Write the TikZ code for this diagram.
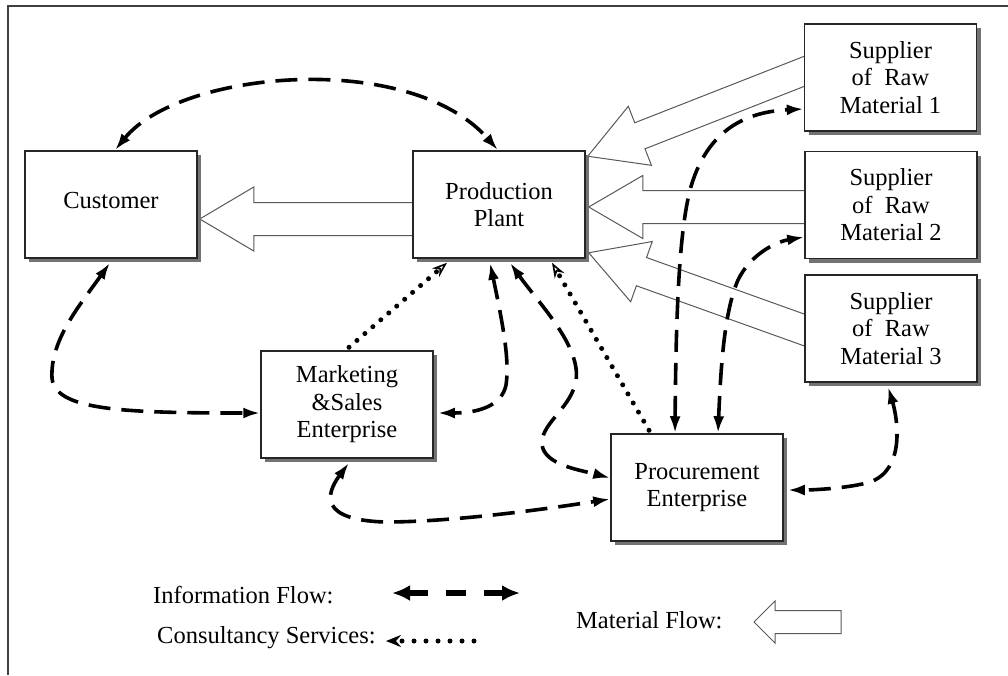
\documentclass[tikz,border=0pt]{standalone}
\usepackage{fontspec}
\setmainfont{Liberation Serif}
\usetikzlibrary{arrows.meta,calc,shadows}
\pgfdeclarelayer{bg}
\pgfsetlayers{bg,main}
% hollow material-flow arrow: #1 start, #2 tip, #3 shaft half width, #4 head half width, #5 head length
\newcommand\matarrow[5]{%
  \coordinate (mH) at ($(#2)!#5!(#1)$);
  \draw[mat] ($(#1)!#3!90:(#2)$) -- ($(mH)!#3!-90:(#1)$) -- ($(mH)!#4!-90:(#1)$) -- (#2)
    -- ($(mH)!#4!90:(#1)$) -- ($(mH)!#3!90:(#1)$) -- ($(#1)!#3!-90:(#2)$) -- cycle;}
\begin{document}
\begin{tikzpicture}[x=1pt,y=-1pt,
  txt/.style={font=\fontsize{24.5}{27.5}\selectfont, inner sep=0pt},
  box/.style={draw=black!85, line width=1.5pt, fill=white, minimum width=172pt,
    minimum height=107pt, align=center, inner sep=0pt,
    font=\fontsize{24.5}{27.5}\selectfont,
    drop shadow={shadow xshift=4pt, shadow yshift=-4pt, fill=black!55, opacity=1}},
  info/.style={line width=3.6pt, dash pattern=on 22pt off 11pt,
    {Latex[length=17pt,width=11pt]}-{Latex[length=17pt,width=11pt]}},
  consult/.style={line width=5pt, line cap=round, dash pattern=on 0pt off 10.5pt,
    -{Stealth[open,length=15pt,width=11pt,line width=1.6pt]}},
  mat/.style={draw=black!65, line width=1pt, fill=white, line join=miter}]
\useasboundingbox (0,0) rectangle (1008,675);
% frame
\draw[line width=1.3pt, black!75] (1008,6) -- (8,6) -- (8,675);

% boxes
\node[box] (cust) at (111,204.5) {\raisebox{8.5pt}{Customer}};
\node[box] (prod) at (499,204.5) {Production\\Plant};
\node[box] (s1) at (890.5,77.5) {Supplier\\of~ Raw\\Material 1};
\node[box] (s2) at (891,205) {Supplier\\of~ Raw\\Material 2};
\node[box] (s3) at (891,328.5) {Supplier\\of~ Raw\\Material 3};
\node[box] (mkt) at (347,404.5) {Marketing\\\&Sales\\Enterprise};
\node[box] (proc) at (697,487.5) {Procurement\\Enterprise};

% material flow arrows
\begin{pgfonlayer}{bg}
  \coordinate (pc) at ($(prod.west)+(20,14.5)$);
  \coordinate (ct) at ($(cust.east)+(2,14.5)$);
  \matarrow{pc}{ct}{16.5pt}{32pt}{54pt}
  \coordinate (s2s) at ($(s2.west)+(20,2)$);
  \coordinate (s2t) at ($(prod.east)+(3,2.5)$);
  \matarrow{s2s}{s2t}{16.5pt}{31.5pt}{54pt}
  \coordinate (s1e) at ($(s1.west)+(0,-6)$);
  \coordinate (s1t) at ($(prod.north east)+(2,6)$);
  \coordinate (s1s) at ($(s1t)!1.09!(s1e)$);
  \matarrow{s1s}{s1t}{14pt}{31.7pt}{56pt}
  \coordinate (s3e) at ($(s3.west)+(0,1.5)$);
  \coordinate (s3t) at ($(prod.south east)+(3,-6)$);
  \coordinate (s3s) at ($(s3t)!1.09!(s3e)$);
  \matarrow{s3s}{s3t}{15pt}{32pt}{56pt}
\end{pgfonlayer}

% information flows
\draw[info] ($(cust.north)+(4,0)$) .. controls (180,70) and (410,50) .. ($(prod.north)+(-1,0)$);
\draw[info] ($(cust.south)+(-1,4)$) .. controls (80,305) and (50,340) .. (52,378)
  .. controls (55,410) and (120,413) .. ($(mkt.west)+(0,8.5)$);
\draw[info] ($(prod.south)+(-9,4)$) .. controls (502,320) and (510,360) .. (506,385)
  .. controls (502,405) and (480,413) .. ($(mkt.east)+(4,8.5)$);
\draw[info] ($(prod.south)+(11,4)$) .. controls (540,305) and (585,350) .. (575,385)
  .. controls (568,410) and (540,425) .. (542,445)
  .. controls (545,465) and (580,470) .. ($(proc.west)+(0,-9.5)$);
\draw[info] ($(proc.north)+(-22,0)$) .. controls (676,300) and (680,230) .. (690,190)
  .. controls (705,135) and (740,112) .. ($(s1.west)+(0,31.5)$);
\draw[info] ($(proc.north)+(21,0)$) .. controls (721,360) and (725,310) .. (738,280)
  .. controls (750,255) and (775,242) .. ($(s2.west)+(0,32)$);
\draw[info] ($(s3.south)+(-3,4)$) .. controls (898,420) and (905,470) .. (870,482)
  .. controls (850,488) and (815,490) .. ($(proc.east)+(4,2.5)$);
\draw[info] ($(mkt.south)+(2,4)$) .. controls (325,495) and (320,520) .. (385,522)
  .. controls (450,522) and (540,510) .. ($(proc.west)+(0,11.5)$);

% consultancy services
\draw[consult] ($(mkt.north)+(2,-3)$) -- ($(prod.south)+(-52,4)$);
\draw[consult] ($(proc.north)+(-48,-3)$) -- ($(prod.south)+(53,4)$);

% legend
\node[txt, anchor=west] (linfo) at (153,595) {Information Flow:};
\node[txt, anchor=west] (lcons) at (157,638) {Consultancy Services:};
\node[txt, anchor=west] (lmat) at (576,620) {Material Flow:};
\coordinate (ia) at (392,593);
\coordinate (ib) at (520,593);
\draw[line width=5.5pt, dash pattern=on 20pt off 18pt,
  {Latex[length=18pt,width=16pt]}-{Latex[length=18pt,width=16pt]}] (ia) -- (ib);
\coordinate (ca) at (474,641);
\coordinate (cb) at (386,641);
\draw[line width=5pt, line cap=round, dash pattern=on 0pt off 12pt,
  -{Stealth[length=15pt,width=12pt,inset=5pt]}] (ca) -- (cb);
\coordinate (ma) at (841,622);
\coordinate (mb) at (754,622);
\matarrow{ma}{mb}{11.5pt}{21pt}{21pt}
\end{tikzpicture}
\end{document}
